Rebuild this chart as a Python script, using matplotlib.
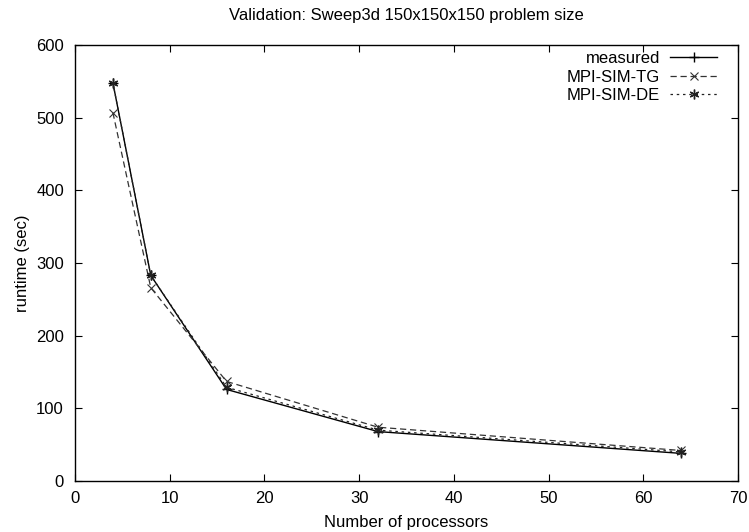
import matplotlib
matplotlib.use("Agg")
import matplotlib.pyplot as plt

plt.rcParams['font.family'] = ['Liberation Sans', 'DejaVu Sans']

procs = [4, 8, 16, 32, 64]
measured = [548, 283, 126, 68, 38]
mpi_sim_tg = [507, 266, 137, 74, 42]
mpi_sim_de = [548, 283, 129, 70, 40]

xticks = [0, 10, 20, 30, 40, 50, 60, 70]
yticks = [0, 100, 200, 300, 400, 500, 600]

FS = 12

fig = plt.figure(figsize=(7.49, 5.32), dpi=100)
L, R, T, B = 75, 738, 45, 481
ax = fig.add_axes([L/749, 1 - B/532, (R-L)/749, (B-T)/532])

ax.plot(procs, measured, color='black', lw=1.0, marker='+', ms=7, mew=1.0, label='measured')
ax.plot(procs, mpi_sim_tg, color='#333333', lw=0.9, ls=(0, (5, 3)), marker='x', ms=6, mew=0.8, label='MPI-SIM-TG')
ax.plot(procs, mpi_sim_de, color='#222222', lw=0.9, ls=(0, (2, 3)), marker=(6, 2, 0), ms=7, mew=1.0, label='MPI-SIM-DE')

ax.set_xlim(0, 70)
ax.set_ylim(0, 600)
ax.set_xticks(xticks)
ax.set_yticks(yticks)
ax.tick_params(axis='x', direction='in', top=True, length=5, labelsize=FS, pad=7)
ax.tick_params(axis='y', direction='in', right=True, length=5, labelsize=FS, pad=8)
for s in ax.spines.values():
    s.set_linewidth(1.0)

ax.set_xlabel('Number of processors', fontsize=FS, labelpad=7)
ax.set_ylabel('runtime (sec)', fontsize=FS, labelpad=4)
ax.set_title('Validation: Sweep3d 150x150x150 problem size', fontsize=FS, pad=18)

leg = ax.legend(loc='upper right', bbox_to_anchor=((717-L)/(R-L), (B-51)/(B-T)),
                frameon=False, markerfirst=False, fontsize=FS,
                handlelength=2.8, borderaxespad=0, labelspacing=0.22, handletextpad=0.6,
                borderpad=0)
for t in leg.get_texts():
    t.set_ha('right')

fig.savefig('out.png', dpi=100)
